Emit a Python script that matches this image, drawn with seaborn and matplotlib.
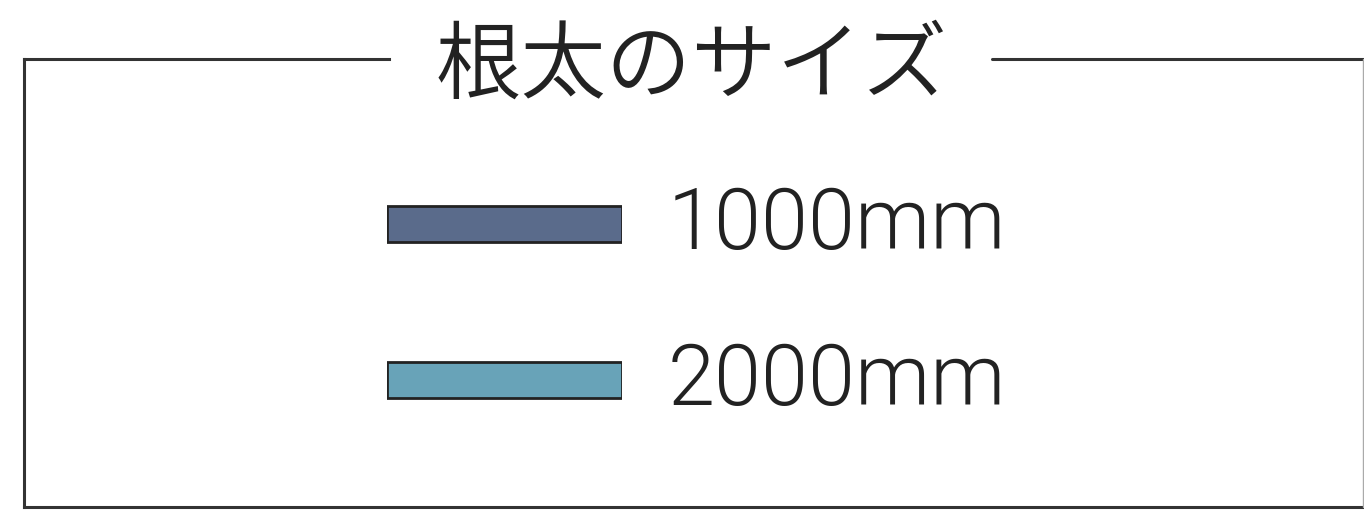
import matplotlib
matplotlib.use("Agg")
import matplotlib.pyplot as plt
import seaborn as sns

# ---- data ----
title = "根太のサイズ"
categories = ["1000mm", "2000mm"]
swatch_lengths = [1.0, 1.0]
colors = ["#5A6B8B", "#68A3B8"]

sns.set_theme(style="white")
plt.rcParams['font.family'] = ['Noto Sans CJK JP', 'DejaVu Sans']

W, H = 1364, 518
fig = plt.figure(figsize=(W / 100, H / 100), dpi=100)
fig.patch.set_facecolor("white")

# background / frame axes in pixel coordinates
bg = fig.add_axes([0, 0, 1, 1])
bg.set_xlim(0, W)
bg.set_ylim(H, 0)
bg.axis("off")
lc = "#333333"
lw = 2.2
bg.plot([24, 389], [59, 59], color=lc, lw=lw, solid_capstyle="projecting")
bg.plot([992, W], [59, 59], color=lc, lw=lw)
bg.plot([24, 24], [59, 507], color=lc, lw=lw, solid_capstyle="projecting")
bg.plot([24, W], [507, 507], color=lc, lw=lw, solid_capstyle="projecting")
bg.plot([1363, 1363], [59, 507], color="#aaaaaa", lw=1.0)
bg.text(692, 68, title, ha="center", va="center", fontsize=61.5, fontweight=350,
        family=['Noto Sans CJK JP', 'DejaVu Sans'], color="#222222")

# swatch bars
ax = fig.add_axes([387 / W, 1 - 458 / H, 235 / W, 312 / H])
sns.barplot(x=swatch_lengths, y=categories, hue=categories, palette=colors,
            orient="h", width=0.237, edgecolor="#222222", linewidth=2.0,
            ax=ax, legend=False, saturation=1)
ax.set_xlim(0, 1)
ax.set_ylim(1.5, -0.5)
ax.patch.set_alpha(0)
for s in ax.spines.values():
    s.set_visible(False)
ax.set_xticks([])
ax.set_yticks([])
ax.set_xlabel("")
ax.set_ylabel("")
for i, lab in enumerate(categories):
    ax.text(1.0 + 46 / 235, i + 0.01, lab, ha="left", va="center",
            fontsize=61, fontweight=300, color="#222222",
            family=['Roboto', 'DejaVu Sans'])

fig.savefig("out.png", dpi=100, facecolor="white")
